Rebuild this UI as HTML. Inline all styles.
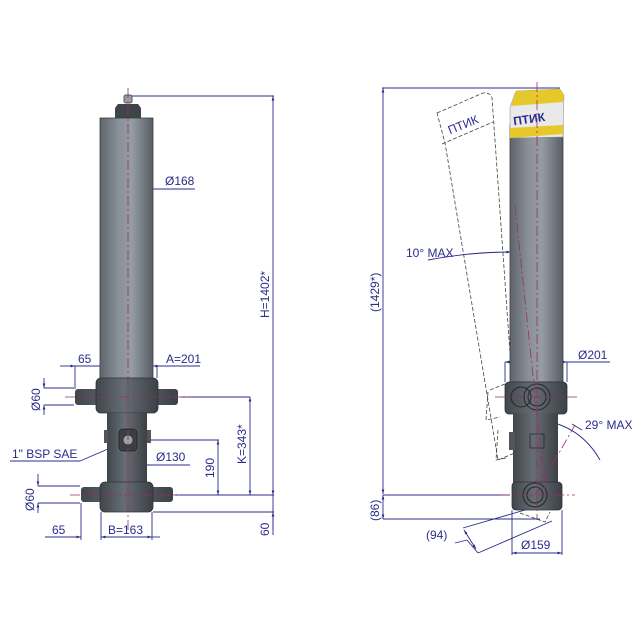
<!DOCTYPE html>
<html><head><meta charset="utf-8"><style>
html,body{margin:0;padding:0;background:#fff}
svg{display:block}
text{font-family:"Liberation Sans",sans-serif;font-size:12px;fill:#2b2b8c}
</style></head><body>
<svg width="640" height="640" viewBox="0 0 640 640" xmlns="http://www.w3.org/2000/svg">
<defs>
<linearGradient id="g" x1="0" x2="1" y1="0" y2="0">
<stop offset="0" stop-color="#5d646b"/><stop offset="0.35" stop-color="#8a9198"/><stop offset="0.6" stop-color="#959ca3"/><stop offset="1" stop-color="#585e64"/>
</linearGradient>
<linearGradient id="gd" x1="0" x2="1" y1="0" y2="0">
<stop offset="0" stop-color="#41464b"/><stop offset="0.45" stop-color="#666d74"/><stop offset="1" stop-color="#3c4146"/>
</linearGradient>
<marker id="a" viewBox="0 0 10 10" refX="10" refY="5" markerWidth="7" markerHeight="5" orient="auto-start-reverse"><path d="M0,2 L10,5 L0,8z" fill="#2b2b8c"/></marker>
</defs>
<g stroke="#2b2b8c" stroke-width="0.9" fill="none">
<line x1="128" y1="96" x2="274" y2="96"/>
<line x1="273" y1="96" x2="273" y2="495" marker-start="url(#a)" marker-end="url(#a)"/>
<line x1="273" y1="495" x2="273" y2="535"/>
<line x1="273" y1="512" x2="273" y2="530" marker-start="url(#a)"/>
<line x1="100" y1="189" x2="128" y2="189" marker-start="url(#a)"/>
<line x1="128" y1="189" x2="153" y2="189" marker-end="url(#a)"/>
<line x1="153" y1="189" x2="195" y2="189"/>
<line x1="60" y1="366" x2="75" y2="366" marker-end="url(#a)"/>
<line x1="75" y1="366" x2="100" y2="366"/>
<line x1="100" y1="366" x2="160" y2="366" marker-start="url(#a)" marker-end="url(#a)"/>
<line x1="160" y1="366" x2="200" y2="366"/>
<line x1="75" y1="366" x2="75" y2="389"/><line x1="100" y1="366" x2="100" y2="378"/><line x1="157" y1="366" x2="157" y2="378"/>
<line x1="44" y1="388" x2="74" y2="388"/><line x1="44" y1="405" x2="74" y2="405"/>
<line x1="44" y1="378" x2="44" y2="388" marker-end="url(#a)"/><line x1="44" y1="415" x2="44" y2="405" marker-end="url(#a)"/>
<line x1="180" y1="397" x2="250" y2="397"/>
<line x1="250" y1="397" x2="250" y2="495" marker-start="url(#a)" marker-end="url(#a)"/>
<line x1="135" y1="440" x2="219" y2="440"/>
<line x1="218" y1="440" x2="218" y2="495" marker-start="url(#a)" marker-end="url(#a)"/>
<line x1="175" y1="495" x2="274" y2="495"/>
<line x1="153" y1="512" x2="274" y2="512"/>
<line x1="108" y1="465" x2="128" y2="465" marker-start="url(#a)"/>
<line x1="128" y1="465" x2="147" y2="465" marker-end="url(#a)"/>
<line x1="147" y1="465" x2="190" y2="465"/>
<line x1="10" y1="461" x2="80" y2="461"/><line x1="80" y1="461" x2="122" y2="443" marker-end="url(#a)"/>
<line x1="38" y1="486" x2="80" y2="486"/><line x1="38" y1="503" x2="80" y2="503"/>
<line x1="38" y1="474" x2="38" y2="486" marker-end="url(#a)"/><line x1="38" y1="513" x2="38" y2="503" marker-end="url(#a)"/>
<line x1="81" y1="503" x2="81" y2="540"/><line x1="101" y1="512" x2="101" y2="540"/><line x1="152" y1="512" x2="152" y2="540"/>
<line x1="45" y1="537" x2="81" y2="537" marker-end="url(#a)"/>
<line x1="101" y1="537" x2="152" y2="537" marker-start="url(#a)" marker-end="url(#a)"/>
<line x1="152" y1="537" x2="160" y2="537"/>
<line x1="382" y1="88" x2="560" y2="88"/>
<line x1="383" y1="88" x2="383" y2="494" marker-start="url(#a)" marker-end="url(#a)"/>
<line x1="383" y1="495" x2="383" y2="519" marker-start="url(#a)" marker-end="url(#a)"/>
<line x1="383" y1="495" x2="510" y2="495"/><line x1="383" y1="519" x2="540" y2="519"/>
<line x1="505" y1="362" x2="505" y2="382"/><line x1="567" y1="362" x2="567" y2="382"/>
<line x1="505" y1="362" x2="567" y2="362" marker-start="url(#a)" marker-end="url(#a)"/>
<line x1="567" y1="362" x2="610" y2="362"/>
<line x1="512" y1="510" x2="512" y2="555"/><line x1="562" y1="510" x2="562" y2="555"/>
<line x1="512" y1="553" x2="562" y2="553" marker-start="url(#a)" marker-end="url(#a)"/>
<path d="M428,260 Q470,252 511,252" marker-end="url(#a)"/>
<path d="M540,420 Q580,425 600,460" />
<line x1="582" y1="430" x2="572" y2="424"/>
<line x1="455" y1="543" x2="467" y2="540"/>
<line x1="467" y1="540" x2="478" y2="553"/>
<line x1="463" y1="528" x2="549" y2="503"/>
<line x1="478" y1="553" x2="552" y2="521"/>
<line x1="464" y1="530" x2="476" y2="549" marker-start="url(#a)" marker-end="url(#a)"/>
</g>
<rect x="124" y="95" width="8" height="8" rx="2" fill="#9a9ea2" stroke="#555"/>
<path d="M118,104 h20 l3,4 v10 h-26 v-10z" fill="#3f4449"/>
<rect x="100" y="118" width="53" height="262" fill="url(#g)" stroke="#3a3e42" stroke-width="0.8"/>
<rect x="75" y="389" width="103" height="16" rx="3" fill="url(#gd)"/>
<rect x="96" y="378" width="62" height="35" rx="5" fill="url(#gd)" stroke="#2f3337" stroke-width="0.8"/>
<rect x="107" y="413" width="40" height="70" fill="url(#gd)"/>
<rect x="104" y="430" width="4" height="13" fill="#555"/><rect x="147" y="430" width="4" height="13" fill="#555"/>
<rect x="119" y="429" width="18" height="22" rx="4" fill="#3a3f44" stroke="#222" stroke-width="0.7"/>
<circle cx="128" cy="440" r="5" fill="#9aa0a6" stroke="#222" stroke-width="0.6"/>
<rect x="81" y="487" width="92" height="15" rx="3" fill="url(#gd)"/>
<rect x="100" y="482" width="53" height="30" rx="5" fill="url(#gd)" stroke="#2f3337" stroke-width="0.8"/>
<g stroke="#9a2e6a" stroke-width="0.8" stroke-dasharray="10,3,2,3" fill="none">
<line x1="128" y1="88" x2="128" y2="530"/>
<line x1="65" y1="397" x2="190" y2="397"/><line x1="70" y1="495" x2="180" y2="495"/>
</g>
<g stroke="#444" stroke-width="0.8" fill="none" stroke-dasharray="4,2">
<path d="M437,113 L483,93 Q490,92 492,98 L517,452 L498,460 L445,143 Z"/>
<line x1="442" y1="144" x2="493" y2="122"/>
<path d="M490,390 L505,384 M488,392 L486,420 L500,417"/>
<path d="M498,430 L496,460 L506,458"/>
<path d="M520,513 L545,522 L550,512"/>
</g>
<text x="448" y="132" font-size="8" fill="#555" transform="rotate(-22 455 128)">ПТИК</text>
<rect x="510" y="125" width="53" height="257" fill="url(#g)" stroke="#3a3e42" stroke-width="0.8"/>
<path d="M510,107 L516,91 L560,89 L564,95 L563,137 L510,138 Z" fill="#e9e9e9" stroke="#888" stroke-width="0.5"/>
<path d="M516,91 L560,89 L564,95 L563,102 L511,106 Z" fill="#e6c82b"/>
<path d="M510,128 L563,125 L563,134 L510,138 Z" fill="#e6c82b"/>
<text x="513" y="123" font-size="10" font-weight="bold" fill="#b0221d" transform="rotate(-8 530 118)">ПТИК</text>
<rect x="505" y="382" width="62" height="32" rx="4" fill="url(#gd)" stroke="#2f3337" stroke-width="0.8"/>
<circle cx="521" cy="397" r="10" fill="none" stroke="#22262a"/>
<circle cx="537" cy="397" r="13" fill="none" stroke="#22262a"/>
<circle cx="537" cy="397" r="9" fill="none" stroke="#22262a"/>
<rect x="513" y="413" width="45" height="71" fill="url(#gd)"/>
<rect x="509" y="432" width="6" height="18" fill="#50565c"/>
<rect x="530" y="434" width="14" height="14" fill="none" stroke="#222" stroke-width="0.7"/>
<rect x="512" y="482" width="50" height="28" rx="4" fill="url(#gd)" stroke="#2f3337" stroke-width="0.8"/>
<circle cx="535" cy="495" r="12" fill="none" stroke="#22262a"/>
<circle cx="535" cy="495" r="8" fill="none" stroke="#22262a"/>
<g stroke="#9a2e6a" stroke-width="0.8" stroke-dasharray="10,3,2,3" fill="none">
<line x1="537" y1="82" x2="537" y2="520"/>
<line x1="495" y1="397" x2="580" y2="397"/><line x1="500" y1="495" x2="575" y2="495"/>
<line x1="535" y1="495" x2="575" y2="425"/>
<line x1="515" y1="205" x2="545" y2="490"/>
</g>
<text x="165" y="185">Ø168</text>
<text x="78" y="363">65</text>
<text x="166" y="363">A=201</text>
<text transform="translate(40,411) rotate(-90)">Ø60</text>
<text x="12" y="458">1" BSP SAE</text>
<text x="156" y="461">Ø130</text>
<text transform="translate(214,478) rotate(-90)">190</text>
<text transform="translate(246,464) rotate(-90)">K=343*</text>
<text transform="translate(269,318) rotate(-90)">H=1402*</text>
<text transform="translate(34,511) rotate(-90)">Ø60</text>
<text transform="translate(269,536) rotate(-90)">60</text>
<text x="52" y="534">65</text>
<text x="108" y="534">B=163</text>
<text transform="translate(379,312) rotate(-90)">(1429*)</text>
<text x="406" y="257">10° MAX</text>
<text x="578" y="359">Ø201</text>
<text x="585" y="429">29° MAX</text>
<text transform="translate(379,521) rotate(-90)">(86)</text>
<text x="426" y="539">(94)</text>
<text x="521" y="549">Ø159</text>
</svg>
</body></html>
